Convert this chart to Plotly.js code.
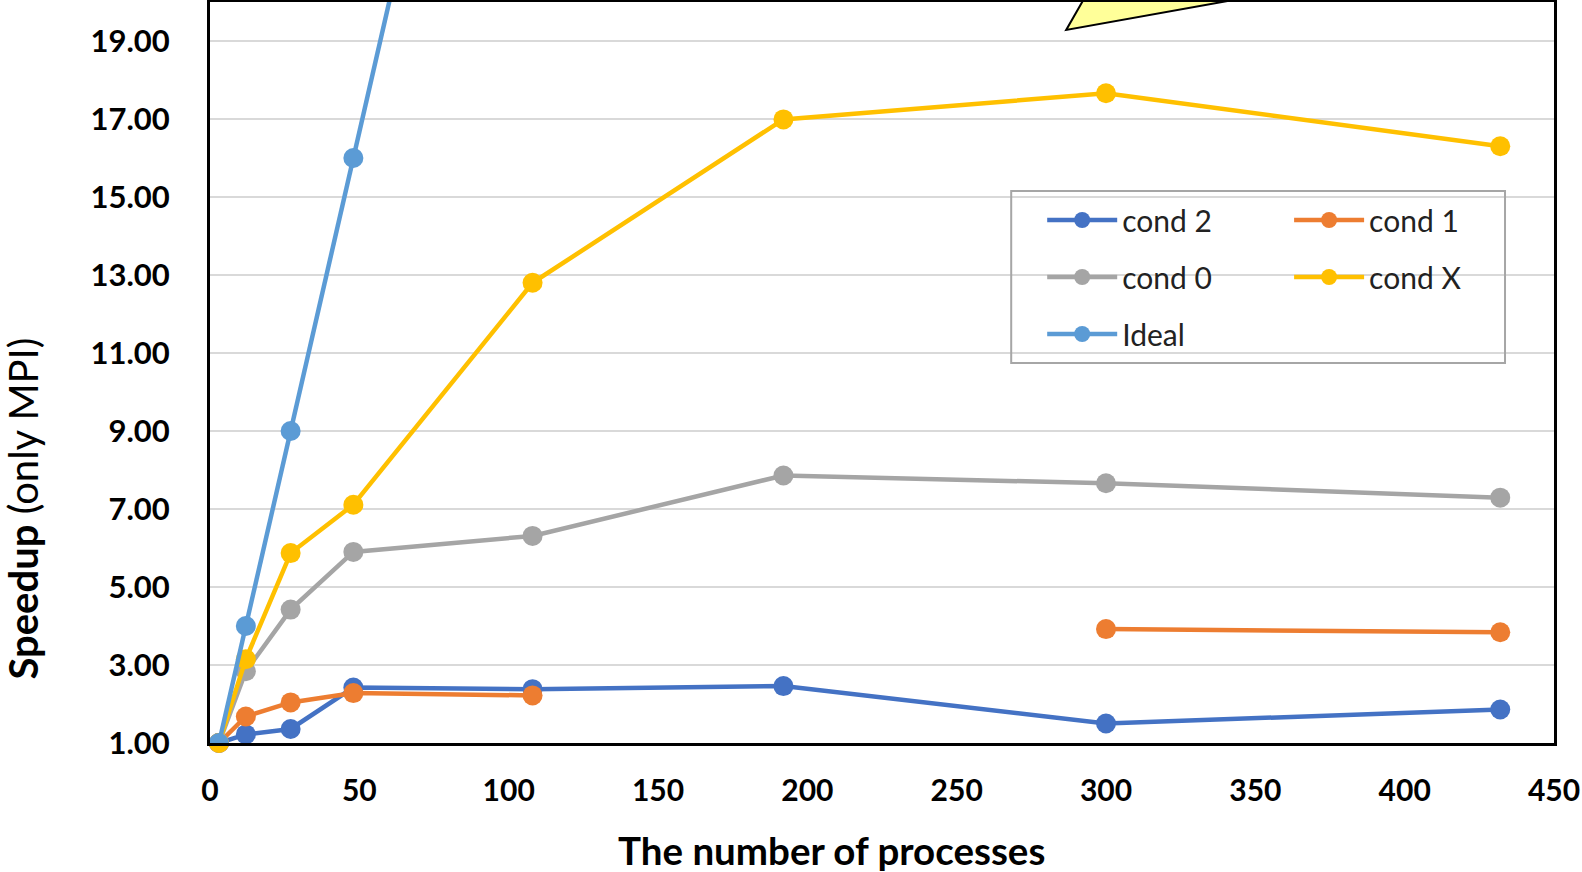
<!DOCTYPE html>
<html>
<head>
<meta charset="utf-8">
<script src="https://cdn.plot.ly/plotly-3.0.1.min.js"></script>
<style>html,body{margin:0;padding:0;background:#fff;}#chart{width:1582px;height:872px;}</style>
</head>
<body>
<div id="chart"></div>
<script>
// ---- data ----
const processes = [3, 12, 27, 48, 108, 192, 300, 432];
const cond2 = [1.00, 1.22, 1.36, 2.42, 2.38, 2.46, 1.50, 1.86];
const cond1 = [1.00, 1.68, 2.04, 2.28, 2.22, null, 3.92, 3.84];
const cond0 = [1.00, 2.84, 4.42, 5.90, 6.31, 7.86, 7.66, 7.29];
const condX = [1.00, 3.15, 5.87, 7.11, 12.80, 16.99, 17.66, 16.30];
const ideal = [1, 4, 9, 16, 36, 64, 100, 144];
const seriesNames = ['cond 2', 'cond 1', 'cond 0', 'cond X', 'Ideal'];
const xTickVals = [0, 50, 100, 150, 200, 250, 300, 350, 400, 450];
const yTickVals = [1, 3, 5, 7, 9, 11, 13, 15, 17, 19];

const colors = ['#4472C4', '#ED7D31', '#A5A5A5', '#FFC000', '#5B9BD5'];
const allY = [cond2, cond1, cond0, condX, ideal];
const legendOf = ['legend', 'legend2', 'legend', 'legend2', 'legend'];

const traces = allY.map((ys, i) => ({
  type: 'scatter',
  mode: 'lines+markers',
  name: seriesNames[i],
  x: processes,
  y: ys,
  connectgaps: false,
  cliponaxis: i === 4,
  legend: legendOf[i],
  legendgroup: 'g' + i,
  line: {color: colors[i], width: 4.5},
  marker: {color: colors[i], size: 20}
}));

const L = 209.5, R = 1554, T = 2, B = 743;
const W = R - L, H = B - T;
const px = v => (v - L) / W;
const py = v => (B - v) / H;

const legendCommon = {
  orientation: 'v',
  xanchor: 'left', yanchor: 'top',
  bgcolor: 'rgba(0,0,0,0)',
  borderwidth: 0,
  font: {family: 'Lato, sans-serif', size: 30, color: '#222'},
  itemwidth: 70,
  tracegroupgap: 15
};

const layout = {
  width: 1582, height: 872,
  margin: {l: L, r: 1582 - R, t: T, b: 872 - B, pad: 0},
  paper_bgcolor: '#fff', plot_bgcolor: '#fff',
  font: {family: 'Lato, sans-serif', color: '#000'},
  showlegend: true,
  legend: Object.assign({}, legendCommon, {x: px(1042), y: py(194)}),
  legend2: Object.assign({}, legendCommon, {x: px(1289), y: py(194)}),
  xaxis: {
    range: [0, 450],
    tickmode: 'array', tickvals: xTickVals,
    showgrid: false, zeroline: false,
    showline: true, mirror: true, linecolor: '#000', linewidth: 3,
    ticks: '', ticklabelstandoff: 19,
    tickfont: {family: 'Lato, sans-serif', size: 30, color: '#000', weight: 'bold'}
  },
  yaxis: {
    range: [1, 20],
    tickmode: 'array', tickvals: yTickVals,
    tickformat: '.2f',
    showgrid: true, gridcolor: '#D9D9D9', gridwidth: 2,
    zeroline: false,
    showline: true, mirror: true, linecolor: '#000', linewidth: 3,
    ticks: '', ticklabelstandoff: 31,
    tickfont: {family: 'Lato, sans-serif', size: 31, color: '#000', weight: 'bold'}
  },
  shapes: [
    {type: 'rect', xref: 'paper', yref: 'paper',
     x0: px(1011), x1: px(1505), y0: py(363), y1: py(191),
     line: {color: '#A6A6A6', width: 2}, fillcolor: 'rgba(0,0,0,0)', layer: 'above'},
    {type: 'path', xref: 'paper', yref: 'paper',
     path: 'M ' + px(1086) + ' ' + py(-5) + ' L ' + px(1066) + ' ' + py(30) + ' L ' + px(1261) + ' ' + py(-5) + ' Z',
     line: {color: '#000', width: 2}, fillcolor: '#FFFF99', layer: 'below'}
  ],
  annotations: [
    {xref: 'paper', yref: 'paper', x: px(831), y: py(850), xanchor: 'center', yanchor: 'middle',
     showarrow: false, text: '<b>The number of processes</b>',
     font: {family: 'Lato, sans-serif', size: 38.5, color: '#000'}},
    {xref: 'paper', yref: 'paper', x: px(22), y: py(509), xanchor: 'center', yanchor: 'middle',
     showarrow: false, textangle: -90, text: '<b>Speedup</b> (only MPI)',
     font: {family: 'Lato, sans-serif', size: 40, color: '#000'}}
  ]
};

Plotly.newPlot('chart', traces, layout, {displayModeBar: false, staticPlot: true});
</script>
</body>
</html>
